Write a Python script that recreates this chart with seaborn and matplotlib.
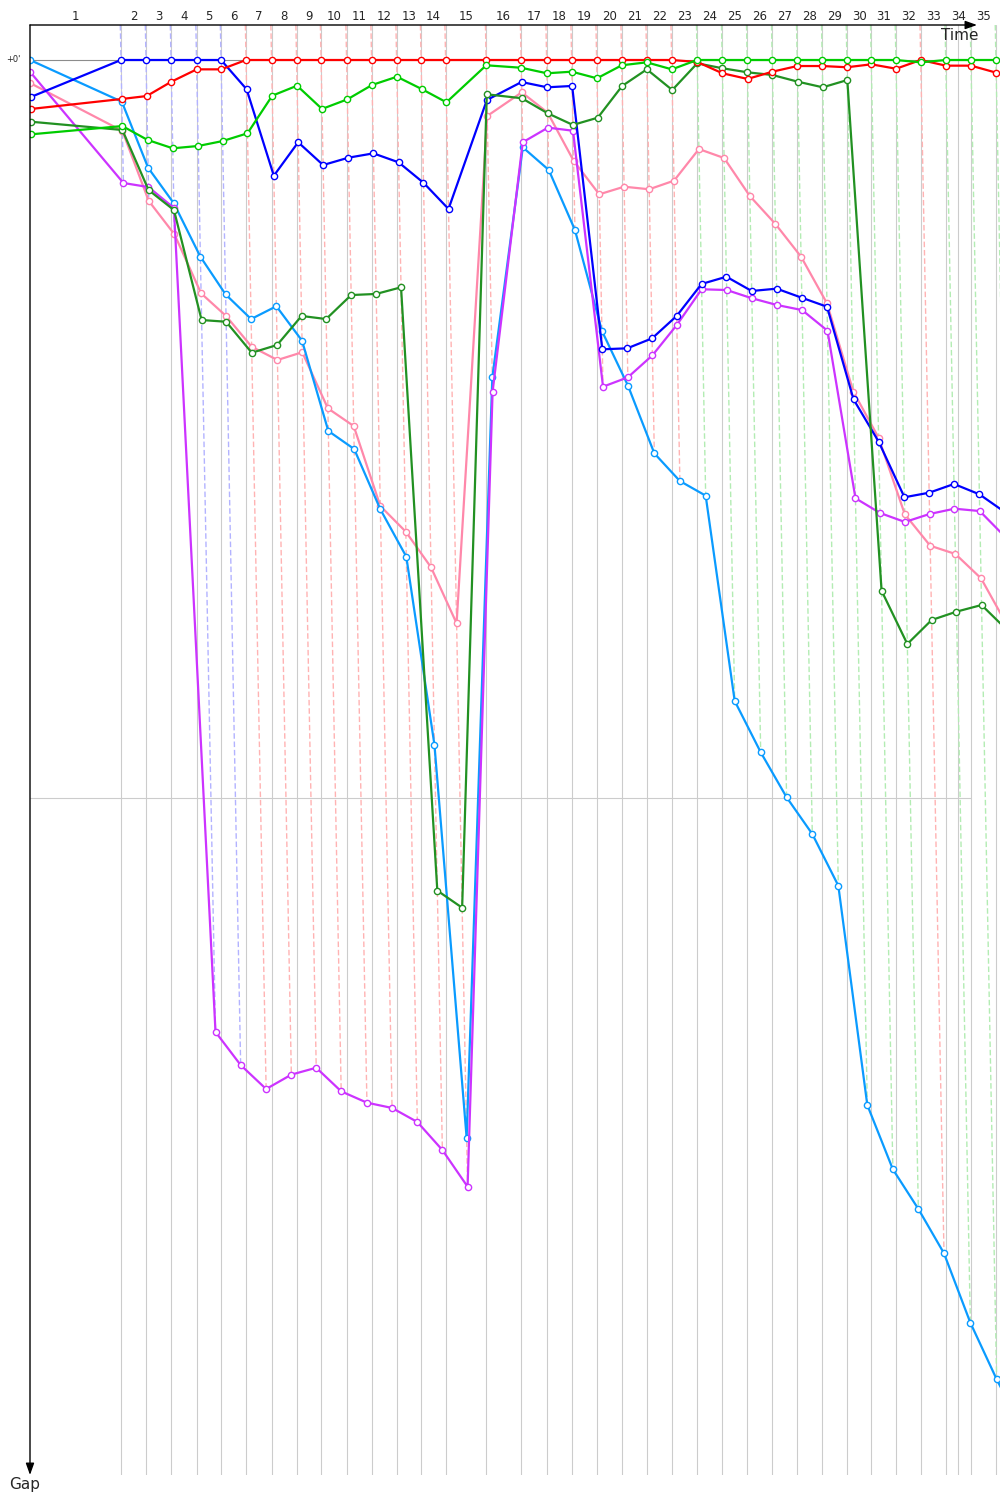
import numpy as np
import pandas as pd
import seaborn as sns
import matplotlib.pyplot as plt
from matplotlib.transforms import blended_transform_factory

# leader lap times in seconds, laps 1..35
lap_times = [379.2, 104.2, 104.2, 106.3, 102.1, 104.2, 106.3, 104.2, 102.1, 106.3,
             104.2, 104.2, 102.1, 102.1, 168.8, 145.8, 106.3, 104.2, 104.2, 104.2,
             104.2, 104.2, 106.3, 104.2, 104.2, 104.2, 104.2, 104.2, 102.9, 101.3,
             102.9, 103.3, 104.2, 105.0, 104.2]
end_time = 3867

# gap to leader in seconds, laps 0..35
red = [3.98, 3.17, 2.93, 1.76, 0.76, 0.76, 0, 0, 0, 0, 0, 0, 0, 0, 0, 0, 0, 0,
       0, 0, 0, 0, 0, 0.16, 1.08, 1.54, 0.95, 0.49, 0.49, 0.59, 0.35, 0.71, 0,
       0.46, 0.46, 1.03]
blue = [3.01, 0, 0, 0, 0, 0, 2.38, 9.41, 6.69, 8.54, 7.94, 7.59, 8.32, 9.98,
        12.11, 3.25, 1.79, 2.22, 2.11, 23.52, 23.44, 22.63, 20.81, 18.21, 17.62,
        18.78, 18.59, 19.33, 20.06, 27.59, 31.03, 35.55, 35.18, 34.47, 35.31, 36.75]
sky = [0, 3.39, 8.76, 11.65, 15.99, 19.06, 21.06, 20.02, 22.82, 30.16, 31.63,
       36.53, 40.38, 55.69, 87.64, 25.80, 7.10, 8.94, 13.82, 22.03, 26.48, 31.98,
       34.23, 35.42, 52.11, 56.28, 59.94, 62.93, 67.13, 84.96, 90.19, 93.41,
       97.02, 102.66, 107.26, 111.38]
purple = [0.98, 10.0, 10.33, 12.03, 79.02, 81.71, 83.66, 82.49, 81.93, 83.85,
          84.77, 85.2, 86.34, 88.62, 91.6, 26.97, 6.69, 5.5, 5.75, 26.56, 25.8,
          24.01, 21.54, 18.64, 18.7, 19.37, 19.92, 20.33, 22.01, 35.63, 36.83,
          37.56, 36.91, 36.48, 36.67, 38.78]
pink = [1.89, 5.77, 11.46, 14.17, 18.97, 20.81, 23.31, 24.39, 23.76, 28.32, 29.76,
        36.26, 38.35, 41.24, 45.8, 4.55, 2.63, 4.28, 8.19, 10.92, 10.3, 10.51,
        9.81, 7.24, 7.97, 11.06, 13.33, 15.99, 19.78, 26.97, 30.71, 36.93, 39.49,
        40.16, 42.14, 45.93]
green = [6.04, 5.37, 6.5, 7.18, 6.99, 6.59, 5.96, 2.9, 2.09, 3.98, 3.2, 2.03,
         1.36, 2.36, 3.44, 0.43, 0.63, 1.08, 0.95, 1.49, 0.43, 0.19, 0.76, 0, 0,
         0, 0, 0, 0, 0, 0, 0, 0.19, 0, 0, 0]
dkgreen = [5.02, 5.69, 10.57, 12.2, 21.14, 21.28, 23.8, 23.17, 20.81, 21.06,
           19.11, 19.02, 18.48, 67.53, 68.92, 2.79, 3.11, 4.33, 5.28, 4.69, 2.11,
           0.76, 2.44, 0.27, 0.67, 1.0, 1.22, 1.76, 2.22, 1.63, 43.15, 47.48,
           45.53, 44.85, 44.31, 46.34]

cars = {"pink": pink, "sky": sky, "purple": purple, "blue": blue,
        "dkgreen": dkgreen, "red": red, "green": green}
colors = {"pink": "#ff88aa", "sky": "#0a9bff", "purple": "#cc33ff",
          "blue": "#0000ff", "dkgreen": "#229122", "red": "#ff0000",
          "green": "#00cc00"}
lap_line_colors = {"blue": "#b3b3ff", "red": "#ffb3b3", "green": "#b3ecb3"}

leader_t = np.concatenate([[0], np.cumsum(lap_times)])
rows = []
for name, gaps in cars.items():
    for lap, g in enumerate(gaps):
        rows.append({"car": name, "lap": lap, "gap": g, "time": leader_t[lap] + g})
df = pd.DataFrame(rows)

sns.set_style("white")
plt.rcParams["font.family"] = ["DejaVu Sans"]

fig = plt.figure(figsize=(10, 15), dpi=100)
ax = fig.add_axes([0.03, 25 / 1500, 0.97, 1450 / 1500])
y_top, y_bot = -35 / 12.3, 1415 / 12.3
x_max = 970 / 0.24

# grid
for t in leader_t[1:]:
    ax.axvline(t, color="#cccccc", lw=0.8, zorder=0)
ax.axvline(end_time, color="#cccccc", lw=0.8, zorder=0)
ax.plot([0, leader_t[34]], [0, 0], color="#8c8c8c", lw=0.8, zorder=0)
ax.plot([0, leader_t[34]], [60, 60], color="#cccccc", lw=0.8, zorder=0)

# lap lines
for n in range(1, len(leader_t)):
    gaps_n = {c: cars[c][n] for c in cars}
    leader = min(gaps_n, key=gaps_n.get)
    gmax = max(gaps_n.values())
    ax.plot([leader_t[n] + y_top, leader_t[n] + gmax], [y_top, gmax],
            color=lap_line_colors.get(leader, "#ffb3b3"), lw=1,
            ls=(0, (4, 2)), zorder=1)

for name in cars:
    col = colors[name]
    sns.lineplot(data=df[df.car == name], x="time", y="gap", sort=False,
                 estimator=None, color=col, lw=1.6, marker="o", ms=4.5,
                 mfc="white", mec=col, mew=1, ax=ax, legend=False, zorder=3)

ax.set_xlim(0, x_max)
ax.set_ylim(y_bot, y_top)
ax.set_xticks([])
ax.set_yticks([])
ax.set_xlabel("")
ax.set_ylabel("")
for s in ax.spines.values():
    s.set_visible(False)

arrow = dict(arrowstyle="-|>,head_length=0.7,head_width=0.25", color="black",
             lw=1, shrinkA=0, shrinkB=0)
ax.annotate("", xy=(0, 0), xytext=(0, 1), xycoords="axes fraction",
            textcoords="axes fraction", arrowprops=arrow, annotation_clip=False)
ax.annotate("", xy=(947 / 970, 1), xytext=(0, 1), xycoords="axes fraction",
            textcoords="axes fraction", arrowprops=arrow, annotation_clip=False)

trans = blended_transform_factory(ax.transData, fig.transFigure)
for n in range(1, len(leader_t)):
    xm = (leader_t[n - 1] + leader_t[n]) / 2
    ax.text(xm, 1 - 17 / 1500, str(n), transform=trans, ha="center",
            va="center", fontsize=8.5, clip_on=False)

fig.text(0.96, 1 - 35 / 1500, "Time", ha="center", va="center", fontsize=11)
fig.text(0.025, 1 - 1485 / 1500, "Gap", ha="center", va="center", fontsize=11)
fig.text(0.021, 1 - 60 / 1500, "+0'", ha="right", va="center", fontsize=6)

fig.savefig("out.png", dpi=100)
